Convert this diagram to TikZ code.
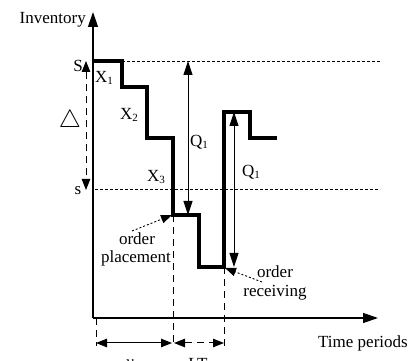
\documentclass[tikz,border=0pt]{standalone}
\usepackage{fontspec}
\setmainfont{Liberation Serif}
\usetikzlibrary{arrows.meta}
\begin{document}
\begin{tikzpicture}[x=1pt,y=-1pt,
  lbl/.style={font=\fontsize{17}{19}\selectfont, inner sep=0pt},
  axis/.style={line width=1.3pt,-{Triangle[length=15pt,width=10pt]}},
  stock/.style={line width=3.3pt, line join=miter},
  tipA/.tip={Triangle[length=14pt,width=9pt]},
  tipB/.tip={Triangle[length=11pt,width=8.5pt]},
  qarrow/.style={line width=0.9pt,tipA-tipA},
  level/.style={line width=0.9pt,dash pattern=on 3pt off 2pt},
  guide/.style={line width=0.9pt,dash pattern=on 7pt off 5pt},
  dimarrow/.style={line width=1pt,tipB-tipB},
  pointer/.style={line width=0.9pt,dash pattern=on 2pt off 2pt,-tipB},
]
\useasboundingbox (0,0) rectangle (416,361);
\newcommand{\sbs}[1]{\raisebox{-0.25ex}{\fontsize{11}{11}\selectfont #1}}
% key coordinates
\coordinate (O) at (93,318);
\coordinate (ytop) at (93,12);
\coordinate (xend) at (378,318);
\coordinate (Sl) at (122,61);
\coordinate (Sr) at (380,61);
\coordinate (sl) at (95,189);
\coordinate (sr) at (380,189);
\coordinate (p0) at (93,61);
\coordinate (p1) at (122,61);
\coordinate (p2) at (122,87);
\coordinate (p3) at (147,87);
\coordinate (p4) at (147,138);
\coordinate (p5) at (173,138);
\coordinate (place) at (173,215);
\coordinate (p7) at (199,215);
\coordinate (p8) at (199,267);
\coordinate (recv) at (224,267);
\coordinate (p10) at (224,112);
\coordinate (p11) at (250,112);
\coordinate (p12) at (250,138);
\coordinate (p13) at (277,138);
\coordinate (qa1) at (188,61);
\coordinate (qa2) at (188,215);
\coordinate (qb1) at (234,112);
\coordinate (qb2) at (234,267);
\coordinate (da1) at (86,61);
\coordinate (da2) at (86,190);
\coordinate (g0a) at (96,318);
\coordinate (g0b) at (96,346);
\coordinate (g1b) at (173,346);
\coordinate (g2b) at (224,346);
\coordinate (d0) at (96,343);
\coordinate (d1) at (172,343);
\coordinate (d2) at (174,343);
\coordinate (d3) at (224,343);
\coordinate (pl) at (132,231);
\coordinate (pltip) at (172,215);
\coordinate (rc) at (262,282);
\coordinate (rctip) at (225,268);

% levels
\draw[level] (Sl) -- (Sr);
\draw[level] (sl) -- (sr);
% axes
\draw[axis] (O) -- (ytop);
\draw[axis] (O) -- (xend);
% inventory curve
\draw[stock] (p0) -- (p1) -- (p2) -- (p3) -- (p4) -- (p5) -- (place) -- (p7) -- (p8) -- (recv) -- (p10) -- (p11) -- (p12) -- (p13);
% Q arrows
\draw[qarrow] (qa1) -- (qa2);
\draw[qarrow] (qb1) -- (qb2);
% delta arrow
\draw[line width=0.9pt,dash pattern=on 7pt off 5pt,tipB-tipB] (da1) -- (da2);
% guides
\draw[guide] (g0a) -- (g0b);
\draw[guide] (place) -- (g1b);
\draw[guide] (recv) -- (g2b);
% dimension arrows
\draw[dimarrow] (d0) -- (d1);
\draw[dimarrow,dash pattern=on 7pt off 5pt] (d2) -- (d3);
% pointers
\draw[pointer] (pl) -- (pltip);
\draw[pointer] (rc) -- (rctip);

% labels
\node[lbl,anchor=base east] (inv) at (86,24) {Inventory};
\node[lbl,anchor=base west] (time) at (318,348) {Time periods};
\node[lbl,anchor=base] (S) at (78,72) {S};
\node[lbl,anchor=base] (s) at (78,195) {s};
\node[anchor=center,inner sep=0pt] (delta) at (70,121) {\fontsize{24}{24}\selectfont$\triangle$};
\node[lbl,anchor=base west] (X1) at (95,83) {X\sbs{1}};
\node[lbl,anchor=base west] (X2) at (120,120) {X\sbs{2}};
\node[lbl,anchor=base west] (X3) at (147,182) {X\sbs{3}};
\node[lbl,anchor=base west] (Q1a) at (190,147) {Q\sbs{1}};
\node[lbl,anchor=base west] (Q1b) at (242,177) {Q\sbs{1}};
\node[lbl,anchor=base] (ord1) at (137,245) {order};
\node[lbl,anchor=base] (plc) at (136,263) {placement};
\node[lbl,anchor=base] (ord2) at (275,278) {order};
\node[lbl,anchor=base] (rcv) at (275,297) {receiving};
\node[lbl,anchor=base] (ylab) at (130,367) {\textit{y}};
\node[lbl,anchor=base] (LT) at (198,370) {LT};
\end{tikzpicture}
\end{document}
